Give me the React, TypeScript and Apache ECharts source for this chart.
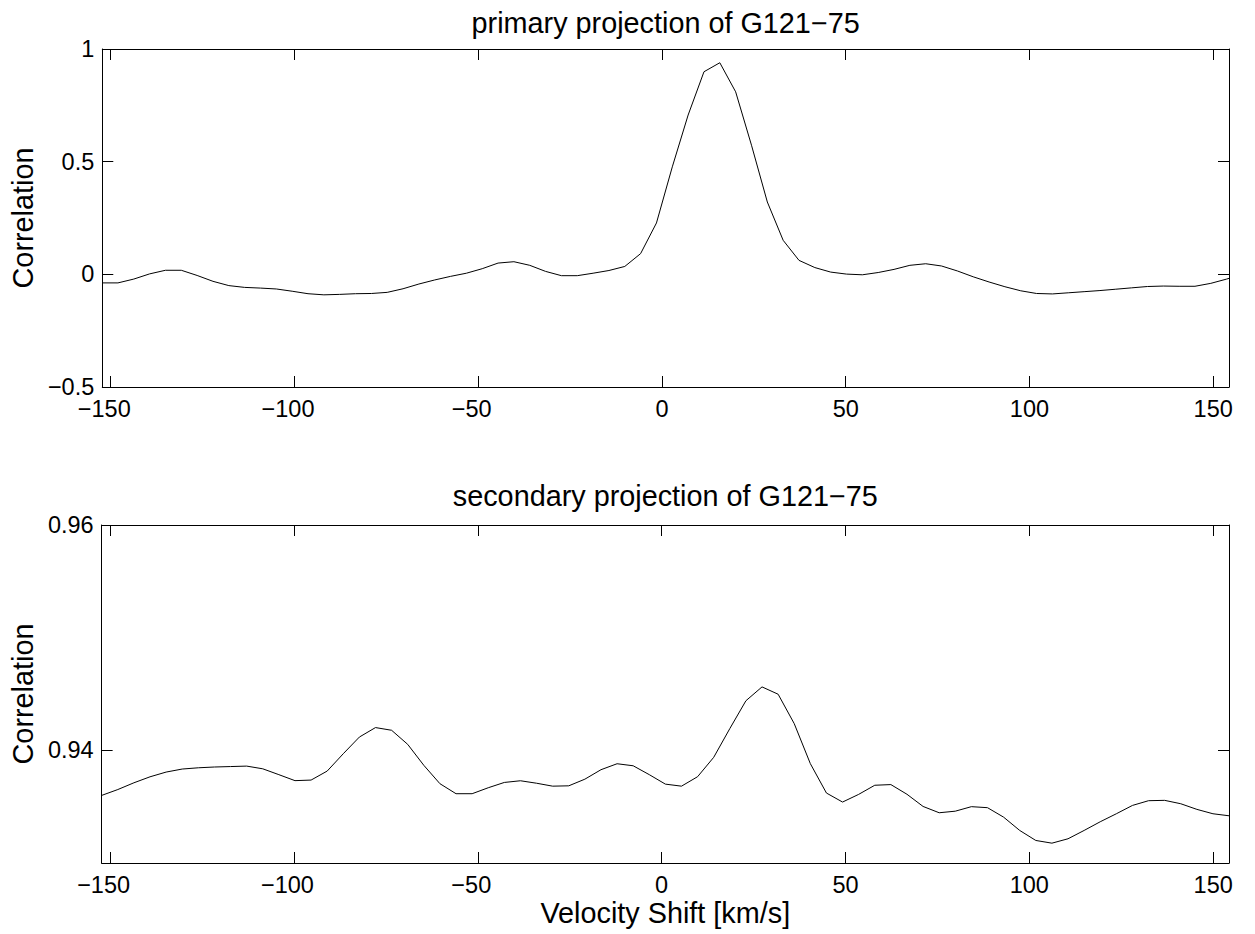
import React, { useEffect, useRef } from "react";
import * as echarts from "echarts";

// ---- data ----
const primaryVelocity = [
  -152.35, -148.04, -143.73, -139.42, -135.11, -130.8, -126.49, -122.18, -117.87, -113.56,
  -109.25, -104.94, -100.63, -96.32, -92.01, -87.7, -83.39, -79.08, -74.77, -70.46,
  -66.15, -61.84, -57.53, -53.22, -48.91, -44.6, -40.29, -35.98, -31.67, -27.36,
  -23.05, -18.74, -14.43, -10.12, -5.81, -1.5, 2.81, 7.12, 11.43, 15.74,
  20.05, 24.36, 28.67, 32.98, 37.29, 41.6, 45.91, 50.22, 54.53, 58.84,
  63.15, 67.46, 71.77, 76.08, 80.39, 84.7, 89.01, 93.32, 97.63, 101.94,
  106.25, 110.56, 114.87, 119.18, 123.49, 127.8, 132.11, 136.42, 140.73, 145.04,
  149.35, 153.66, 157.97,
];
const primaryCorrelation = [
  -0.038, -0.038, -0.021, 0.002, 0.018, 0.018, -0.005, -0.031, -0.05, -0.058,
  -0.061, -0.065, -0.075, -0.086, -0.091, -0.089, -0.086, -0.085, -0.08, -0.064,
  -0.043, -0.025, -0.009, 0.005, 0.025, 0.05, 0.056, 0.04, 0.013, -0.006,
  -0.006, 0.005, 0.017, 0.035, 0.092, 0.228, 0.477, 0.707, 0.899, 0.939,
  0.81, 0.573, 0.321, 0.151, 0.062, 0.03, 0.01, 0.001, -0.002, 0.008,
  0.022, 0.04, 0.047, 0.037, 0.015, -0.011, -0.034, -0.055, -0.073, -0.085,
  -0.087, -0.082, -0.077, -0.072, -0.066, -0.06, -0.054, -0.052, -0.053, -0.053,
  -0.04, -0.021, 0.0,
];

const secondaryVelocity = [
  -152.28, -147.9, -143.52, -139.14, -134.76, -130.38, -126.0, -121.62, -117.24, -112.86,
  -108.48, -104.1, -99.72, -95.34, -90.96, -86.58, -82.2, -77.82, -73.44, -69.06,
  -64.68, -60.3, -55.92, -51.54, -47.16, -42.78, -38.4, -34.02, -29.64, -25.26,
  -20.88, -16.5, -12.12, -7.74, -3.36, 1.02, 5.4, 9.78, 14.16, 18.54,
  22.92, 27.3, 31.68, 36.06, 40.44, 44.82, 49.2, 53.58, 57.96, 62.34,
  66.72, 71.1, 75.48, 79.86, 84.24, 88.62, 93.0, 97.38, 101.76, 106.14,
  110.52, 114.9, 119.28, 123.66, 128.04, 132.42, 136.8, 141.18, 145.56, 149.94,
  154.32,
];
const secondaryCorrelation = [
  0.936, 0.93652, 0.93712, 0.93765, 0.93807, 0.93834, 0.93845, 0.93852, 0.93856, 0.9386,
  0.93836, 0.93784, 0.93731, 0.93736, 0.93816, 0.9397, 0.94118, 0.94202, 0.94178, 0.94053,
  0.93867, 0.93704, 0.93615, 0.93615, 0.93668, 0.93715, 0.9373, 0.93708, 0.93682, 0.93685,
  0.93744, 0.93828, 0.93881, 0.93863, 0.93784, 0.937, 0.93682, 0.93766, 0.93938, 0.94193,
  0.9444, 0.94563, 0.94498, 0.94237, 0.93882, 0.93621, 0.93541, 0.93609, 0.9369, 0.93696,
  0.9361, 0.93502, 0.93446, 0.9346, 0.935, 0.93491, 0.93407, 0.93289, 0.932, 0.93176,
  0.93215, 0.93289, 0.93366, 0.93437, 0.93511, 0.93553, 0.93556, 0.93526, 0.93476, 0.93437,
  0.93419,
];

const velocityTicks = [-150, -100, -50, 0, 50, 100, 150];
const primaryTicks = [-0.5, 0, 0.5, 1];
const secondaryTicks = [0.94, 0.96];

const titles = ["primary projection of G121\u221275", "secondary projection of G121\u221275"];
const xLabel = "Velocity Shift [km/s]";
const yLabel = "Correlation";

const X_MIN = -152.3;
const X_MAX = 154.3;

const FONT = "'Liberation Sans', Arial, Helvetica, sans-serif";
const TICK_FS = 23.5;
const LABEL_FS = 28.8;

const fmt = (v: number) => String(v).replace("-", "\u2212");

export default function App() {
  const ref = useRef<HTMLDivElement>(null);
  useEffect(() => {
    if (!ref.current) return;
    const chart = echarts.init(ref.current, null, { renderer: "svg" });
    const axisLine = { show: true, onZero: false, lineStyle: { color: "#000", width: 1 } };
    const tick = (vals: number[]) => ({
      show: true,
      inside: true,
      length: 11,
      customValues: vals,
      lineStyle: { color: "#000", width: 1 },
    });
    const textBase = { color: "#000", fontSize: TICK_FS, fontFamily: FONT };
    const yLabelCfg = (vals: number[]) => ({
      show: true,
      customValues: vals,
      formatter: (v: number) => fmt(v),
      ...textBase,
      margin: 8,
    });
    // MATLAB centres the digits of negative tick labels on the tick (minus hangs left)
    const xLabelCfg = {
      show: true,
      customValues: velocityTicks,
      formatter: (v: number) => (v < 0 ? `{neg|${fmt(v)}}` : `{pos|${fmt(v)}}`),
      ...textBase,
      margin: 10,
      rich: {
        neg: { ...textBase, padding: [0, 13, 0, 0] },
        pos: { ...textBase },
      },
    };
    const noLabel = { show: false };
    const xBase = (grid: number, position: string) => ({
      type: "value",
      gridIndex: grid,
      position,
      min: X_MIN,
      max: X_MAX,
      axisLine,
      axisTick: tick(velocityTicks),
      splitLine: { show: false },
    });
    const yBase = (grid: number, position: string, min: number, max: number, vals: number[]) => ({
      type: "value",
      gridIndex: grid,
      position,
      min,
      max,
      axisLine,
      axisTick: tick(vals),
      splitLine: { show: false },
    });
    const nameStyle = { color: "#000", fontSize: LABEL_FS, fontFamily: FONT };

    const option: any = {
      animation: false,
      backgroundColor: "#fff",
      grid: [
        { left: 101, top: 49, width: 1128, height: 338, show: false },
        { left: 101, top: 525, width: 1128, height: 338, show: false },
      ],
      xAxis: [
        { ...xBase(0, "bottom"), axisLabel: xLabelCfg },
        {
          ...xBase(0, "top"),
          axisLabel: noLabel,
          name: titles[0],
          nameLocation: "middle",
          nameGap: 12,
          nameTextStyle: nameStyle,
        },
        {
          ...xBase(1, "bottom"),
          axisLabel: xLabelCfg,
          name: xLabel,
          nameLocation: "middle",
          nameGap: 35,
          nameTextStyle: nameStyle,
        },
        {
          ...xBase(1, "top"),
          axisLabel: noLabel,
          name: titles[1],
          nameLocation: "middle",
          nameGap: 15,
          nameTextStyle: nameStyle,
        },
      ],
      yAxis: [
        {
          ...yBase(0, "left", -0.5, 1, primaryTicks),
          axisLabel: yLabelCfg(primaryTicks),
          name: yLabel,
          nameLocation: "middle",
          nameGap: 62,
          nameTextStyle: nameStyle,
        },
        { ...yBase(0, "right", -0.5, 1, primaryTicks), axisLabel: noLabel },
        {
          ...yBase(1, "left", 0.93, 0.96, secondaryTicks),
          axisLabel: yLabelCfg(secondaryTicks),
          name: yLabel,
          nameLocation: "middle",
          nameGap: 62,
          nameTextStyle: nameStyle,
        },
        { ...yBase(1, "right", 0.93, 0.96, secondaryTicks), axisLabel: noLabel },
      ],
      series: [
        {
          type: "line",
          xAxisIndex: 0,
          yAxisIndex: 0,
          data: primaryVelocity.map((v, i) => [v, primaryCorrelation[i]]),
          showSymbol: false,
          symbol: "none",
          clip: true,
          lineStyle: { color: "#000", width: 1 },
        },
        {
          type: "line",
          xAxisIndex: 2,
          yAxisIndex: 2,
          data: secondaryVelocity.map((v, i) => [v, secondaryCorrelation[i]]),
          showSymbol: false,
          symbol: "none",
          clip: true,
          lineStyle: { color: "#000", width: 1 },
        },
      ],
    };
    chart.setOption(option);
    return () => chart.dispose();
  }, []);
  return (
    <div
      ref={ref}
      style={{ position: "absolute", left: 0, top: 0, width: 1255, height: 934, background: "#fff" }}
    />
  );
}
